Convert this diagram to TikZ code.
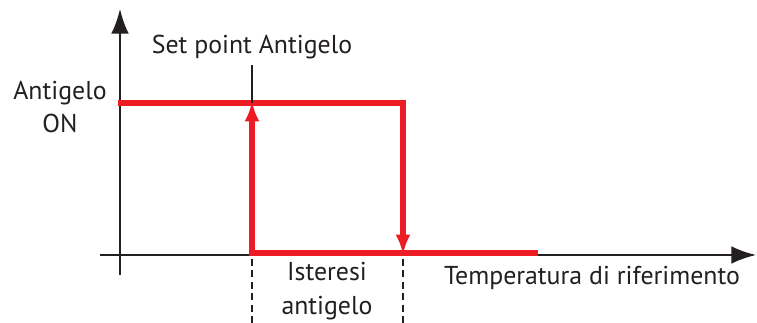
\documentclass[tikz,border=0pt]{standalone}
\usepackage{fontspec}
\setmainfont{PT Sans}
\usetikzlibrary{arrows.meta}

\definecolor{antired}{RGB}{237, 28, 36}
\definecolor{txtgray}{RGB}{35, 31, 32}

\tikzset{
	axis/.style = {line width = 1.1pt, draw = txtgray, -{Latex[length = 14pt, width = 10pt]}},
	cycle/.style = {line width = 3.8pt, draw = antired, line join = miter},
	hyst/.style = {cycle, -{Latex[length = 11.5pt, width = 8.5pt]}, shorten >= -1pt},
	guide/.style = {line width = 0.8pt, draw = txtgray, dash pattern = on 4pt off 2.5pt},
	lbl/.style = {text = txtgray, font = \fontsize{14.7}{19}\selectfont, align = center, inner sep = 0pt}
}

\begin{document}
\begin{tikzpicture}[x = 0.02cm, y = -0.02cm]

	% Frame
	
	\useasboundingbox (0, 0) rectangle (757, 323);
	
	% Definitions
	
	\def\xon{252}
	\def\xoff{403}
	\def\yhi{103}
	\def\ylo{253}
	
	% Axes
	
	\coordinate (origin) at (120, 255);
	\coordinate (ybot) at (120, 275);
	\coordinate (ytop) at (120, 9);
	\coordinate (xleft) at (100, 255);
	\coordinate (xright) at (756, 255);
	
	\draw [axis] (ybot) -- (ytop);
	\draw [axis] (xleft) -- (xright);
	
	% Hysteresis corners
	
	\coordinate (hiL) at (118, \yhi);
	\coordinate (hiR) at (\xoff, \yhi);
	\coordinate (loR) at (\xoff, \ylo);
	\coordinate (loL) at (\xon, \ylo);
	\coordinate (loE) at (538, \ylo);
	\coordinate (hiM) at (\xon, \yhi);
	
	\draw [cycle] (hiL) -- (hiR) -- (\xoff, 150);
	\draw [hyst] (\xoff, 140) -- (loR);
	\draw [cycle] (\xon, 140) |- (loE);
	\draw [hyst] (\xon, 150) -- (hiM);
	
	% Set point tick + dashed guides
	
	\coordinate (tick) at (\xon, 65);
	\draw [line width = 1.1pt, draw = txtgray] (tick) -- (hiM);
	
	\coordinate (dashA) at (\xon, 323);
	\coordinate (dashB) at (\xoff, 323);
	\draw [guide] (\xon, 259) -- (dashA);
	\draw [guide] (\xoff, 259) -- (dashB);
	
	% Labels
	
	\node [lbl] (setpoint) at (\xon, 47) {Set point Antigelo};
	\node [lbl] (onlabel) at (60, 107) {Antigelo\\ON};
	\node [lbl] (isteresi) at (327, 291) {Isteresi\\antigelo};
	\node [lbl] (temp) at (592, 278) {Temperatura di riferimento};

\end{tikzpicture}
\end{document}
